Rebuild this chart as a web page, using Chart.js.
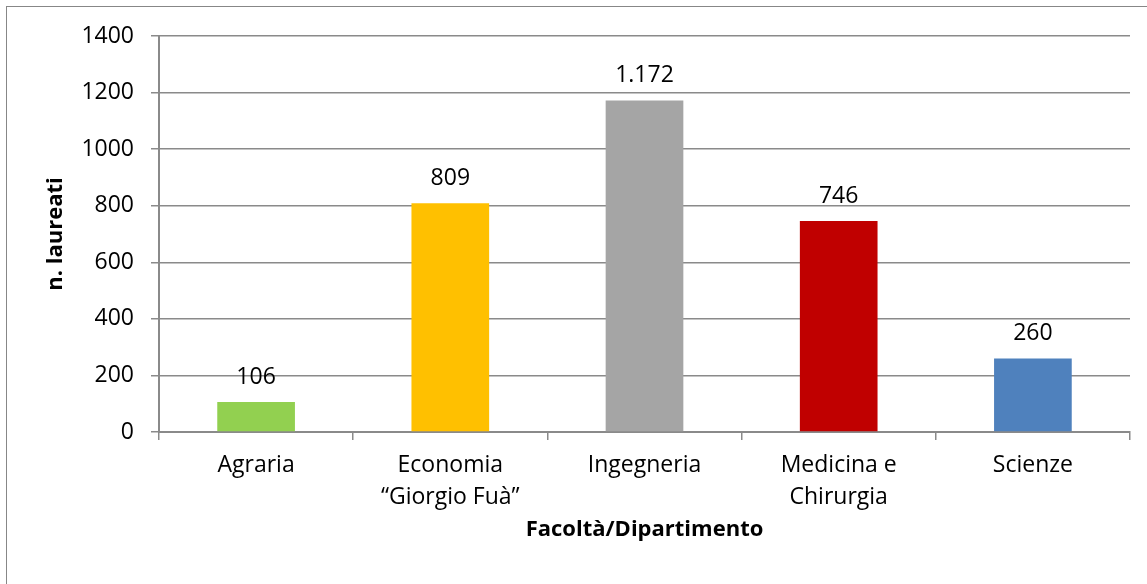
<!DOCTYPE html>
<html>
<head>
<meta charset="utf-8">
<script src="https://cdn.jsdelivr.net/npm/chart.js@4/dist/chart.umd.min.js"></script>
<style>
  html, body { margin: 0; padding: 0; background: #ffffff; overflow: hidden; }
  #wrap { position: relative; width: 1147px; height: 584px; }
  #frame { position: absolute; left: 6px; top: 6px; width: 1400px; height: 900px; border: 1.5px solid #878787; box-sizing: border-box; }
  canvas { position: absolute; left: 0; top: 0; }
</style>
</head>
<body>
<div id="wrap">
  <div id="frame"></div>
  <canvas id="c" width="1147" height="584"></canvas>
</div>
<script>
const categories = ["Agraria", ["Economia", "\u201CGiorgio Fu\u00E0\u201D"], "Ingegneria", ["Medicina e", "Chirurgia"], "Scienze"];
const laureati = [106, 809, 1172, 746, 260];
const barColors = ["#92D050", "#FFC000", "#A5A5A5", "#C00000", "#4F81BD"];
const yTicks = [0, 200, 400, 600, 800, 1000, 1200, 1400];
const yTitle = "n. laureati";
const xTitle = "Facolt\u00E0/Dipartimento";

const FONT = "'Open Sans', 'DejaVu Sans', sans-serif";
const gridColor = "#8a8a8a";

const valueLabels = {
  id: 'valueLabels',
  afterDatasetsDraw(chart) {
    const ctx = chart.ctx;
    const meta = chart.getDatasetMeta(0);
    ctx.save();
    ctx.font = "23px " + FONT;
    ctx.fillStyle = "#000";
    ctx.textAlign = "center";
    ctx.textBaseline = "alphabetic";
    meta.data.forEach((bar, i) => {
      const v = chart.data.datasets[0].data[i];
      ctx.fillText(v.toLocaleString('it-IT'), bar.x, bar.y - 18);
    });
    ctx.restore();
  }
};

new Chart(document.getElementById('c'), {
  type: 'bar',
  data: {
    labels: categories,
    datasets: [{
      data: laureati,
      backgroundColor: barColors,
      borderWidth: 0,
      barPercentage: 0.4,
      categoryPercentage: 1.0
    }]
  },
  options: {
    responsive: false,
    animation: false,
    devicePixelRatio: 1,
    layout: { padding: { left: 0, right: 17, top: 36, bottom: 0 } },
    plugins: { legend: { display: false }, tooltip: { enabled: false }, title: { display: false } },
    scales: {
      x: {
        offset: true,
        grid: { display: true, offset: true, drawOnChartArea: false, drawTicks: true, tickLength: 8, color: gridColor, lineWidth: 1.5 },
        border: { display: true, color: gridColor, width: 2 },
        ticks: { color: "#000", font: { family: FONT, size: 23, lineHeight: 1.38 }, padding: 10, maxRotation: 0, autoSkip: false },
        title: { display: true, text: xTitle, color: "#000", font: { family: FONT, size: 22, weight: 'bold' }, padding: { top: 0, bottom: 41 } },
        afterFit(axis) { axis.height = 152; }
      },
      y: {
        min: 0, max: 1400,
        afterBuildTicks(axis) { axis.ticks = yTicks.map(v => ({ value: v })); },
        grid: { color: gridColor, lineWidth: 1.5, drawTicks: true, tickLength: 8 },
        border: { display: true, color: gridColor, width: 2 },
        ticks: { color: "#000", font: { family: FONT, size: 23 }, padding: 17, callback: (v) => String(v) },
        title: { display: true, text: yTitle, color: "#000", font: { family: FONT, size: 22, weight: 'bold' }, padding: { top: 43, bottom: 0 } },
        afterFit(axis) { axis.width = 159; }
      }
    }
  },
  plugins: [valueLabels]
});
</script>
</body>
</html>
